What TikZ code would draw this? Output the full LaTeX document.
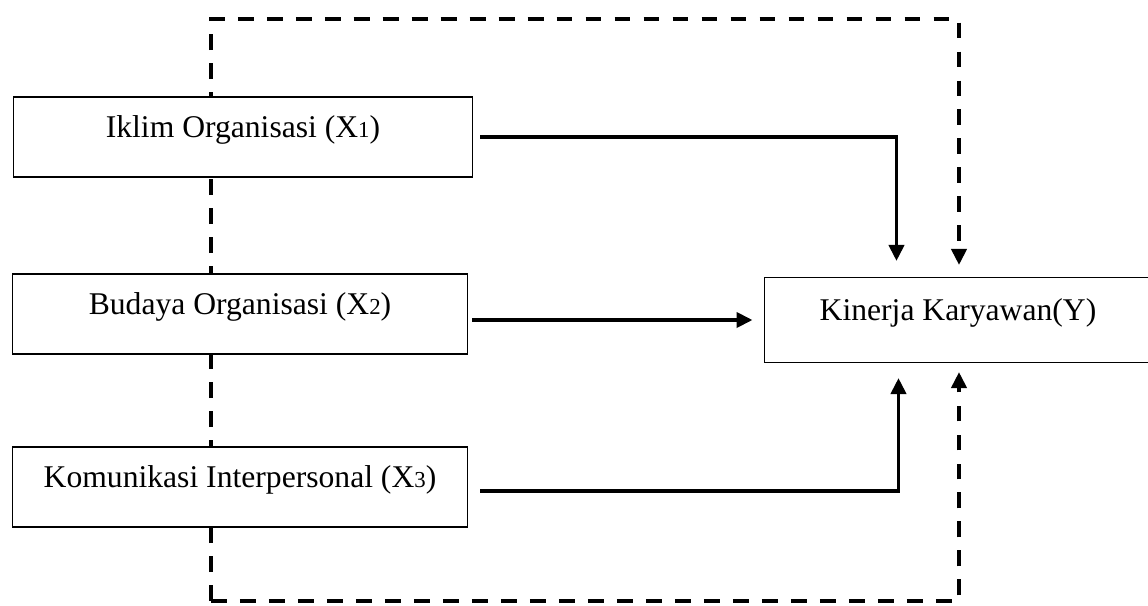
\documentclass[tikz,border=0pt]{standalone}
\usepackage{fontspec}
\setmainfont{Liberation Serif}
\usetikzlibrary{arrows.meta,calc,backgrounds}

\newcommand{\idx}[1]{{\fontsize{13}{13}\selectfont #1}}

\begin{document}
\begin{tikzpicture}[x=0.02cm,y=-0.02cm,
  varbox/.style={draw,line width=0.6pt,fill=white,minimum height=1.6cm,
    text height=0.45cm,text depth=0.45cm,inner sep=0pt,font=\fontsize{18}{22}\selectfont},
  flow/.style={line width=2.2pt,-{Triangle[length=0.32cm,width=0.3cm]}},
  dashflow/.style={flow,dash pattern=on 9pt off 7.5pt}]
\useasboundingbox (0,0) rectangle (1148,605);

% Variables
\node[varbox,minimum width=9.2cm] (x1) at (243,137) {Iklim Organisasi (X\idx{1})};
\node[varbox,minimum width=9.12cm] (x2) at (240,314) {Budaya Organisasi (X\idx{2})};
\node[varbox,minimum width=9.12cm] (x3) at (240,487) {Komunikasi Interpersonal (X\idx{3})};
\node[varbox,minimum width=7.76cm,minimum height=1.7cm] (y) at (958,320) {Kinerja Karyawan(Y)};

% Partial effects
\draw[flow] ([xshift=0.14cm]x1.east) -| ([xshift=2.66cm,yshift=0.32cm]y.north west);
\draw[flow] ([xshift=0.08cm]x2.east |- y.west) -- ([xshift=-0.22cm]y.west);
\draw[flow] ([xshift=0.24cm,yshift=-0.08cm]x3.east) -| ([xshift=2.7cm,yshift=-0.3cm]y.south west);

% Joint effect
\coordinate (tl) at (211,19);
\coordinate (tr) at (959,19);
\coordinate (bl) at (211,601);
\coordinate (br) at (959,601);
\begin{scope}[on background layer]
\draw[dashflow] (bl) -- (tl) -- (tr) -- ($(tr |- y.north)+(0,-12)$);
\draw[dashflow] (bl) -- (br) -- ($(br |- y.south)+(0,9)$);
\end{scope}
\end{tikzpicture}
\end{document}
